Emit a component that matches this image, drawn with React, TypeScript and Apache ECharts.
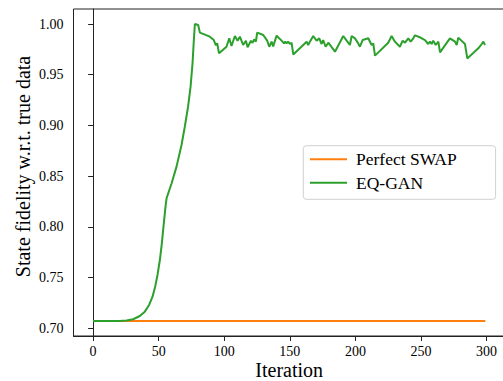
import React, { useEffect, useRef } from "react";
import * as echarts from "echarts";

const xTicks = [0, 50, 100, 150, 200, 250, 300];
const yTicks = [0.7, 0.75, 0.8, 0.85, 0.9, 0.95, 1.0];

const swapIter = [0, 299];
const swapFidelity = [0.7071, 0.7071];

const ganIter = [
  0, 10, 20, 25.5, 30.5, 35.6, 39.4, 42.7, 45.3, 47.3, 49.1, 50.9, 52.4, 53.9, 55.2,
  56, 59.8, 63.6, 67.4, 69.9, 72.4, 74.3, 75.8, 76.8, 77.6, 80.1, 81.4, 89, 92, 93.6,
  94.6, 96, 101.7, 103.8, 105.5, 108.1, 110.1, 111.9, 114.4, 116.5, 117.8, 120.3, 121.5,
  122.8, 124.1, 125.1, 129.7, 132.7, 134.3, 136.1, 137.3, 139.9, 143.7, 145.5,
  146.5, 147.5, 148.7, 150, 151.3, 152.6, 162.8, 164, 165.3, 167.8, 170.4, 172.4, 174.2,
  175.4, 177.3, 179.3, 184.4, 190.7, 193.3, 195.8, 197.1, 199.6, 202.1, 203.4, 205.5,
  209.8, 212.3, 213.6, 214.9, 225, 227.6, 230.1, 233.9, 236, 237.8, 240.3, 242.1, 244.1,
  245.4, 249.2, 253, 255.5, 256.8, 258.1, 259.3, 261.2, 263.2, 264.5, 270.8, 272.1, 275.9,
  277.2, 278.4, 283.5, 285.3, 293.7, 296.3, 297.5, 298.8,
];
const ganFidelity = [
  0.7071, 0.7071, 0.7072, 0.7076, 0.7089, 0.7121, 0.7164, 0.723, 0.7312, 0.741, 0.7526,
  0.7673, 0.7838, 0.8035, 0.82,
  0.8282, 0.8428, 0.8594, 0.8807, 0.8987, 0.9185, 0.9382, 0.9612, 0.9842, 1.0, 0.999,
  0.9915, 0.9875, 0.9842, 0.979, 0.981, 0.9711, 0.9776, 0.986, 0.9783, 0.9882, 0.9835,
  0.9875, 0.9793, 0.9835, 0.977, 0.9835, 0.9815, 0.9848, 0.9826, 0.9915, 0.9892,
  0.9836, 0.9776, 0.9826, 0.978, 0.9885,
  0.9836, 0.9809, 0.9826, 0.9809, 0.9826, 0.9803, 0.9816, 0.97, 0.9826, 0.9793, 0.9826,
  0.9882, 0.9836, 0.9859, 0.9803, 0.9842, 0.9776, 0.9816, 0.9727, 0.9882, 0.9836, 0.9793,
  0.9882, 0.9859, 0.9809, 0.9776, 0.9842, 0.9859, 0.9793, 0.9809, 0.9688, 0.9816, 0.9882,
  0.9826, 0.9776, 0.9836, 0.9816, 0.9859, 0.9826, 0.9859, 0.9888, 0.9869, 0.9842, 0.9803,
  0.9826, 0.9803, 0.9836, 0.9793, 0.9826, 0.972, 0.9836, 0.9859, 0.9826, 0.9793, 0.9866,
  0.9803, 0.9661, 0.976, 0.9803, 0.9826, 0.9793,
];

const FONT = "Liberation Serif";

export default function App() {
  const ref = useRef<HTMLDivElement>(null);
  useEffect(() => {
    if (!ref.current) return;
    const chart = echarts.init(ref.current, null, { renderer: "svg" });
    const axisColor = "#222";
    const tickRich = { t: { fontFamily: FONT, fontSize: 14, color: "#000" } };
    chart.setOption({
      animation: false,
      backgroundColor: "#fff",
      textStyle: { fontFamily: FONT },
      grid: {
        left: 73.5,
        top: 9,
        width: 431.4,
        height: 327,
        show: true,
        borderColor: axisColor,
        borderWidth: 1,
        backgroundColor: "transparent",
        outerBoundsMode: "none",
        containLabel: false,
      },
      legend: {
        orient: "vertical",
        left: 303.3,
        top: 145.7,
        padding: [4.6, 39, 7.6, 5.7],
        itemWidth: 37,
        itemHeight: 14,
        itemGap: 5.4,
        backgroundColor: "#fff",
        borderColor: "#d0d0d0",
        borderWidth: 1,
        borderRadius: 3,
        itemStyle: { opacity: 0 },
        textStyle: {
          fontFamily: FONT,
          fontSize: 17.5,
          color: "#000",
          lineHeight: 18,
          padding: [0, 0, 0, 4],
        },
        data: ["Perfect SWAP", "EQ-GAN"],
      },
      xAxis: {
        type: "value",
        min: -14.95,
        max: 313.95,
        splitLine: { show: false },
        axisLine: { show: true, lineStyle: { color: axisColor, width: 1 } },
        axisTick: {
          show: true,
          length: 5,
          customValues: xTicks,
          lineStyle: { color: axisColor },
        },
        axisLabel: {
          customValues: xTicks,
          margin: 8,
          fontFamily: FONT,
          fontSize: 14,
          color: "#000",
          rich: tickRich,
          formatter: (v: number) => "{t|" + String(v) + "}",
        },
      },
      yAxis: {
        type: "value",
        min: 0.6924,
        max: 1.0148,
        splitLine: { show: false },
        axisLine: { show: true, lineStyle: { color: axisColor, width: 1 } },
        axisTick: {
          show: true,
          length: 5,
          customValues: yTicks,
          lineStyle: { color: axisColor },
        },
        axisLabel: {
          customValues: yTicks,
          margin: 10,
          fontFamily: FONT,
          fontSize: 14,
          color: "#000",
          rich: tickRich,
          formatter: (v: number) => "{t|" + v.toFixed(2) + "}",
        },
      },
      graphic: [
        {
          type: "text",
          x: 22.5,
          y: 166.5,
          rotation: Math.PI / 2,
          style: {
            text: "State fidelity w.r.t. true data",
            fontFamily: FONT,
            fontSize: 20,
            fill: "#000",
            textAlign: "center",
            textVerticalAlign: "middle",
          },
        },
        {
          type: "text",
          x: 289.2,
          y: 370,
          style: {
            text: "Iteration",
            fontFamily: FONT,
            fontSize: 20,
            fill: "#000",
            textAlign: "center",
            textVerticalAlign: "middle",
          },
        },
      ],
      series: [
        {
          name: "Perfect SWAP",
          type: "line",
          symbol: "none",
          data: swapIter.map((x, i) => [x, swapFidelity[i]]),
          lineStyle: { color: "#ff7f0e", width: 2 },
          itemStyle: { color: "#ff7f0e" },
          z: 2,
        },
        {
          name: "EQ-GAN",
          type: "line",
          symbol: "none",
          data: ganIter.map((x, i) => [x, ganFidelity[i]]),
          lineStyle: { color: "#2ca02c", width: 2 },
          itemStyle: { color: "#2ca02c" },
          z: 3,
        },
      ],
    });
    return () => chart.dispose();
  }, []);
  return <div ref={ref} style={{ width: 503, height: 381, position: "absolute", left: 0, top: 0 }} />;
}
